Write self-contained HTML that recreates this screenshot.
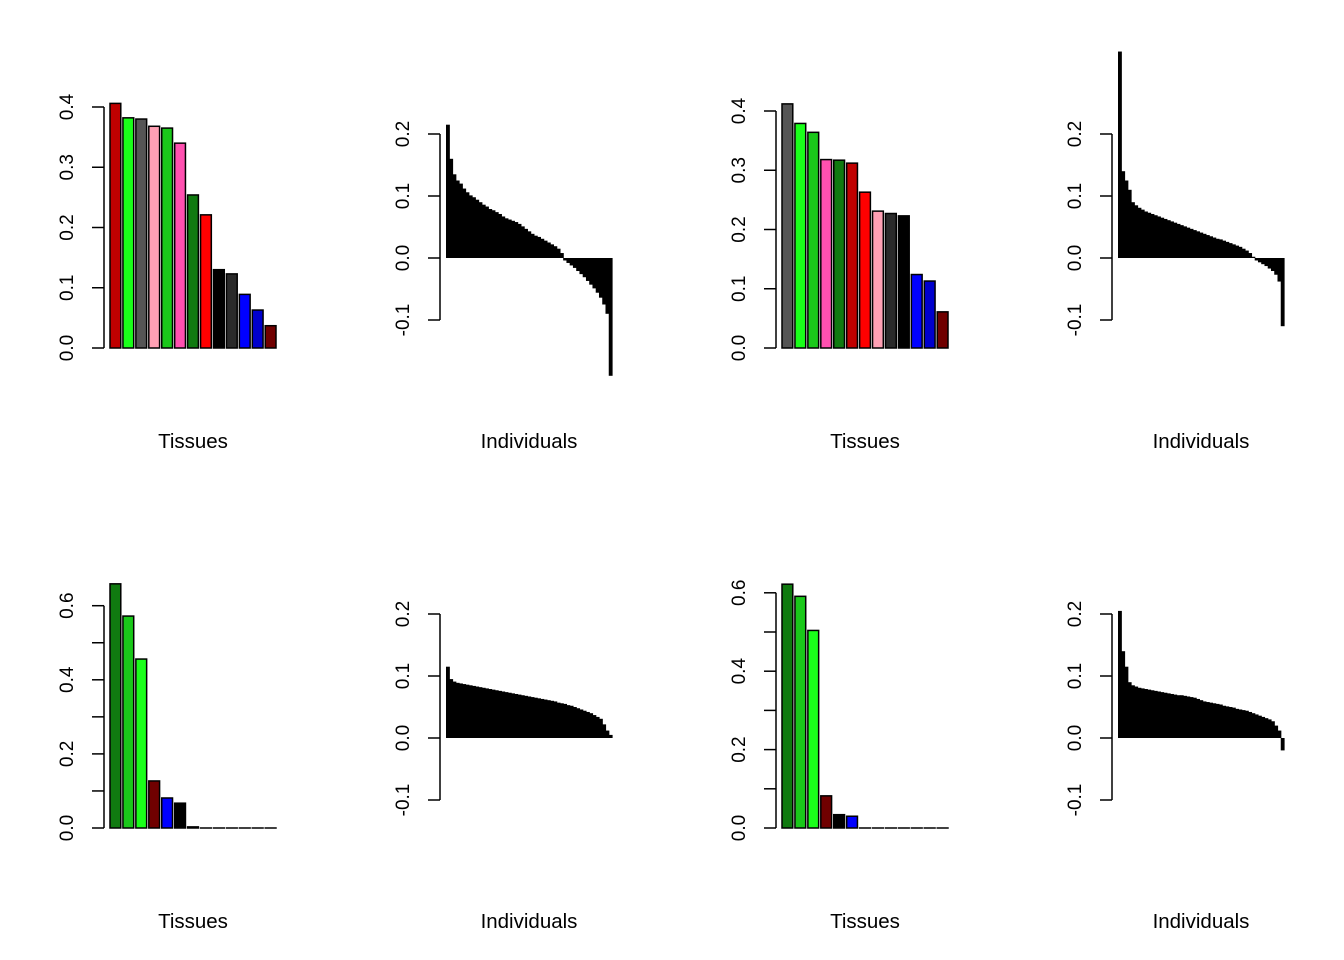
<!DOCTYPE html>
<html><head><meta charset="utf-8"><style>
html,body{margin:0;padding:0;background:#fff;}
svg{display:block;font-family:"Liberation Sans",Arial,sans-serif;}
</style></head><body>
<svg id="chart" width="1344" height="960" viewBox="0 0 1344 960" xmlns="http://www.w3.org/2000/svg"></svg>
<script>
// ---- data ----
const tissues1 = [0.406,0.382,0.380,0.368,0.365,0.340,0.254,0.221,0.130,0.123,0.089,0.063,0.037];
const colors1 = ["#C00000","#1AFF1A","#555555","#FFA0B4","#1AC81A","#FF50B0","#107A10","#FF0000","#000000","#2A2A2A","#0000FF","#0000CD","#700000"];
const tissues3 = [0.412,0.379,0.364,0.318,0.317,0.312,0.263,0.231,0.227,0.223,0.124,0.113,0.061];
const colors3 = ["#555555","#1AFF1A","#1AC81A","#FF50B0","#107A10","#C00000","#FF0000","#FFA0B4","#2A2A2A","#000000","#0000FF","#0000CD","#700000"];
const tissues5 = [0.659,0.572,0.456,0.127,0.081,0.067,0.003,0,0,0,0,0,0];
const colors5 = ["#107A10","#1AC81A","#1AFF1A","#700000","#0000FF","#000000","#000000","#000000","#000000","#000000","#000000","#000000","#000000"];
const tissues7 = [0.622,0.591,0.504,0.082,0.034,0.030,0,0,0,0,0,0,0];
const colors7 = ["#107A10","#1AC81A","#1AFF1A","#700000","#000000","#0000FF","#000000","#000000","#000000","#000000","#000000","#000000","#000000"];
const indiv2 = [0.215,0.16,0.135,0.125,0.12,0.112,0.106,0.101,0.098,0.094,0.09,0.086,0.083,0.079,0.077,0.074,0.071,0.067,0.064,0.062,0.060,0.058,0.055,0.051,0.047,0.043,0.039,0.036,0.034,0.031,0.028,0.025,0.022,0.019,0.015,0.008,-0.004,-0.008,-0.012,-0.016,-0.021,-0.026,-0.031,-0.037,-0.043,-0.049,-0.056,-0.064,-0.075,-0.09,-0.19];
const indiv4 = [0.333,0.14,0.125,0.11,0.09,0.085,0.081,0.078,0.075,0.073,0.071,0.069,0.067,0.065,0.063,0.061,0.059,0.057,0.055,0.053,0.051,0.049,0.047,0.045,0.043,0.041,0.039,0.037,0.035,0.033,0.031,0.030,0.028,0.026,0.024,0.022,0.020,0.018,0.015,0.012,0.008,0.002,-0.004,-0.007,-0.010,-0.013,-0.017,-0.021,-0.027,-0.038,-0.11];
const indiv6 = [0.115,0.095,0.091,0.089,0.088,0.087,0.086,0.085,0.084,0.083,0.082,0.081,0.080,0.079,0.078,0.077,0.076,0.075,0.074,0.073,0.072,0.071,0.070,0.069,0.068,0.067,0.066,0.065,0.064,0.063,0.062,0.061,0.060,0.059,0.057,0.056,0.055,0.053,0.052,0.050,0.048,0.046,0.044,0.042,0.040,0.037,0.034,0.031,0.022,0.012,0.005];
const indiv8 = [0.205,0.14,0.115,0.09,0.085,0.083,0.081,0.080,0.079,0.078,0.077,0.076,0.075,0.074,0.073,0.072,0.071,0.070,0.069,0.069,0.068,0.067,0.066,0.065,0.063,0.061,0.059,0.058,0.057,0.056,0.055,0.054,0.052,0.051,0.050,0.049,0.047,0.046,0.045,0.044,0.042,0.040,0.038,0.036,0.034,0.032,0.030,0.027,0.020,0.012,-0.02];
const ticksTop = ["0.0","0.1","0.2","0.3","0.4"];
const ticksBottom = ["0.0","","0.2","","0.4","","0.6"];
const ticksIndiv = ["-0.1","0.0","0.1","0.2"];

const svg = document.getElementById('chart');
const NS = "http://www.w3.org/2000/svg";
function mk(tag, attrs, parent){
  const e = document.createElementNS(NS, tag);
  for (const k in attrs) e.setAttribute(k, attrs[k]);
  (parent||svg).appendChild(e);
  return e;
}

function yAxis(g, axX, yScale, vals, labels){
  const line = mk('line',{x1:axX,x2:axX,y1:yScale(vals[0]),y2:yScale(vals[vals.length-1]),stroke:'#000','stroke-width':1.5},g);
  
  
  vals.forEach((v,i)=>{
    const y = yScale(v);
    const t = mk('line',{x1:axX-12,x2:axX,y1:y,y2:y,stroke:'#000','stroke-width':1.5},g);
    
    
    if (labels[i]) {
      const tx = mk('text',{x:0,y:0,'font-size':19,'text-anchor':'middle',transform:`translate(${axX-31},${y}) rotate(-90)`},g);
      
      
      tx.textContent = labels[i];
    }
  });
}

function xTitle(g, cx, y, txt){
  const t = mk('text',{x:cx,y:y,'font-size':20.5,'text-anchor':'middle'},g);
  
  
  t.textContent = txt;
}

function tissuePanel(name, axX, zeroY, pxPer, vals, cols, tickVals, tickLabels, cx, titleY){
  const g = mk('g',{});
  
  
  const yS = v => zeroY - v*pxPer*10;
  const n = vals.length, x0 = axX+6, span = 166;
  const w = span/(n*1.2-0.2), step = w*1.2;
  vals.forEach((v,i)=>{
    const top = yS(v);
    const h = zeroY-top;
    if (h < 1) {
      const l = mk('line',{x1:x0+i*step-0.75,x2:x0+i*step+w+0.75,y1:zeroY,y2:zeroY,stroke:'#000','stroke-width':1.5},g);
      
      
    } else {
      const r = mk('rect',{x:x0+i*step,y:top,width:w,height:h,fill:cols[i],stroke:'#000','stroke-width':1.5},g);
      
      
    }
  });
  yAxis(g, axX, yS, tickVals, tickLabels);
  xTitle(g, cx, titleY, 'Tissues');
}

function indivPanel(name, axX, zeroY, vals, cx, titleY){
  const g = mk('g',{});
  
  
  const yS = v => zeroY - v*620;
  const n = vals.length, x0 = axX+6, span = 166, w = span/n;
  vals.forEach((v,i)=>{
    const y = yS(v);
    const r = mk('rect',{x:x0+i*w,y:Math.min(y,zeroY),width:w+0.6,height:Math.max(1,Math.abs(zeroY-y)),fill:'#000'},g);
    
    
  });
  yAxis(g, axX, yS, [-0.1,0,0.1,0.2], ticksIndiv);
  xTitle(g, cx, titleY, 'Individuals');
}

tissuePanel('tissues-panel-1',104,348,60.25,tissues1,colors1,[0,0.1,0.2,0.3,0.4],ticksTop,193,448);
indivPanel('individuals-panel-2',440,258,indiv2,529,448);
tissuePanel('tissues-panel-3',776,348,59.25,tissues3,colors3,[0,0.1,0.2,0.3,0.4],ticksTop,865,448);
indivPanel('individuals-panel-4',1112,258,indiv4,1201,448);
tissuePanel('tissues-panel-5',104,828,37.05,tissues5,colors5,[0,0.1,0.2,0.3,0.4,0.5,0.6],ticksBottom,193,928);
indivPanel('individuals-panel-6',440,738,indiv6,529,928);
tissuePanel('tissues-panel-7',776,828,39.2,tissues7,colors7,[0,0.1,0.2,0.3,0.4,0.5,0.6],ticksBottom,865,928);
indivPanel('individuals-panel-8',1112,738,indiv8,1201,928);
</script>
</body></html>
